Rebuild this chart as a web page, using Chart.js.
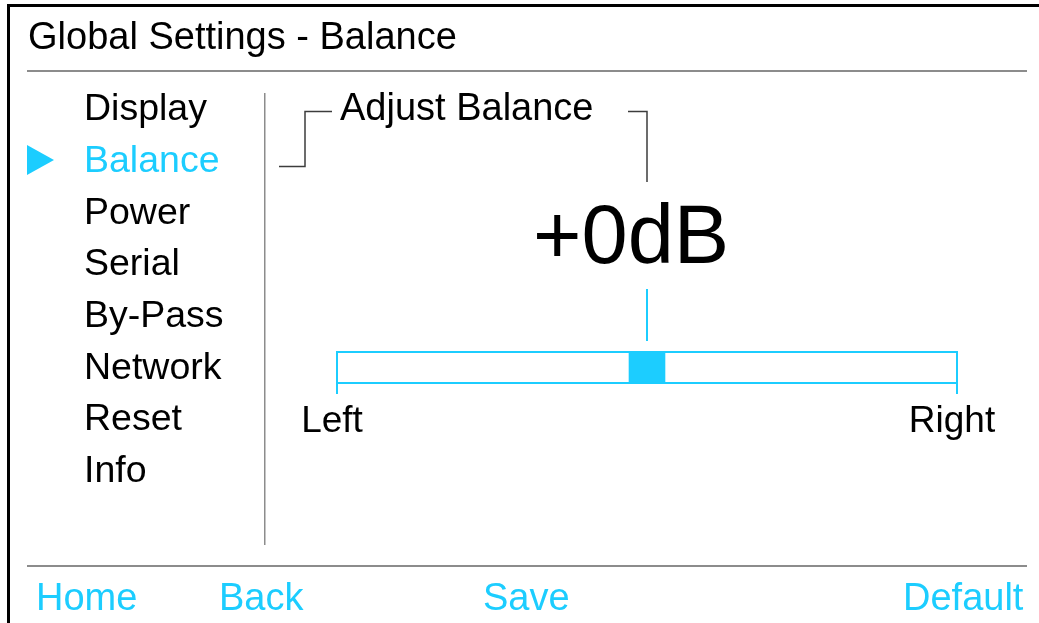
<!DOCTYPE html>
<html>
<head>
<meta charset="utf-8">
<title>Global Settings - Balance</title>
<script src="https://cdn.jsdelivr.net/npm/chart.js@4.4.0/dist/chart.umd.min.js"></script>
<style>
  html, body { margin: 0; padding: 0; background: #fff; }
  body { width: 1039px; height: 623px; position: relative; overflow: hidden;
         font-family: "Liberation Sans", Arial, Helvetica, sans-serif; }
  #balanceChart { position: absolute; left: 0; top: 0; }
  .txt { position: absolute; white-space: nowrap; font-size: 38px; line-height: 38px; color: #000; }
  .cyan { color: #1ccdff; }
</style>
</head>
<body>
<canvas id="balanceChart" width="1039" height="623"></canvas>
<script>
// screen content
const pageTitle = 'Global Settings - Balance';
const menuItems = ['Display', 'Balance', 'Power', 'Serial', 'By-Pass', 'Network', 'Reset', 'Info'];
const selectedItem = 'Balance';
const footerButtons = ['Home', 'Back', 'Save', 'Default'];
const groupTitle = 'Adjust Balance';

// balance data
const balanceCategories = ['Balance'];
const balanceValues = [0];          // dB
const balanceMin = -10;
const balanceMax = 10;
const tickValues = [-10, 10];
const tickLabels = ['Left', 'Right'];
const markerHalfWidth = 0.58;

const cyan = '#1ccdff';
const fontFamily = '"Liberation Sans", Arial, Helvetica, sans-serif';

//text layout (left x, baseline y)
function addText(str, left, baseline, size, cls) {
    const el = document.createElement('div');
    el.className = 'txt' + (cls ? ' ' + cls : '');
    el.style.fontSize = size + 'px';
    el.style.lineHeight = size + 'px';
    el.style.left = left + 'px';
    el.style.top = (baseline - 0.8465 * size) + 'px';
    el.textContent = str;
    document.body.appendChild(el);
    return el;
}

addText(pageTitle, 28, 49.5, 38);
menuItems.forEach(function (item, i) {
    addText(item, 84, 121 + i * 51.7, 37.5, item === selectedItem ? 'cyan' : '');
});
addText(groupTitle, 340, 120, 38);

const footerX = [36, 219, 483, 903];
footerButtons.forEach(function (btn, i) {
    addText(btn, footerX[i], 610, 38, 'cyan');
});

// big dB readout, centred over the pointer
const v = balanceValues[0];
const readout = addText((v >= 0 ? '+' : '') + v + 'dB', 0, 263, 83);

//frame, separators, brackets, selector arrow
const uiFrame = {
    id: 'uiFrame',
    beforeDraw(chart) {
        const ctx = chart.ctx;
        ctx.save();
        ctx.fillStyle = '#000';
        ctx.fillRect(8, 4, 1031, 3);
        ctx.fillRect(7, 4, 3, 619);

        ctx.fillStyle = '#8c8c8c';
        ctx.fillRect(27, 70, 1000, 2);
        ctx.fillRect(27, 565, 1000, 2);
        ctx.fillRect(264, 93, 1.5, 452);

        ctx.strokeStyle = '#3c3c3c';
        ctx.lineWidth = 1.5;
        ctx.beginPath();
        ctx.moveTo(279, 166.5);
        ctx.lineTo(305, 166.5);
        ctx.lineTo(305, 111.5);
        ctx.lineTo(332, 111.5);
        ctx.moveTo(628, 111.5);
        ctx.lineTo(647, 111.5);
        ctx.lineTo(647, 182);
        ctx.stroke();

        const sel = menuItems.indexOf(selectedItem);
        const cy = 160 + (sel - 1) * 51.7;
        ctx.fillStyle = cyan;
        ctx.beginPath();
        ctx.moveTo(27, cy - 15);
        ctx.lineTo(54, cy);
        ctx.lineTo(27, cy + 15);
        ctx.closePath();
        ctx.fill();
        ctx.restore();
    },
    afterDatasetsDraw(chart) {
        const ctx = chart.ctx;
        const a = chart.chartArea;
        const px = chart.scales.x.getPixelForValue(balanceValues[0]);
        ctx.save();
        ctx.strokeStyle = cyan;
        ctx.lineWidth = 2;
        ctx.strokeRect(a.left, a.top, a.right - a.left, a.bottom - a.top);
        ctx.fillStyle = cyan;
        ctx.fillRect(px - 1, 289, 2, 52);
        ctx.restore();
    }
};

//draw balance slider
const containerBalance = document.querySelector('#balanceChart').getContext('2d');
const balanceChart = new Chart(containerBalance, {
    type: 'bar',
    data: {
        labels: balanceCategories,
        datasets: [{
            data: balanceValues.map(function (b) { return [b - markerHalfWidth, b + markerHalfWidth]; }),
            backgroundColor: cyan,
            borderWidth: 0,
            barPercentage: 1,
            categoryPercentage: 1
        }]
    },
    options: {
        indexAxis: 'y',
        responsive: false,
        devicePixelRatio: 1,
        animation: false,
        layout: {
            padding: { left: 337, right: 82, top: 352, bottom: 170 }
        },
        scales: {
            x: {
                type: 'linear',
                min: balanceMin,
                max: balanceMax,
                afterBuildTicks: function (scale) {
                    scale.ticks = tickValues.map(function (t) { return { value: t }; });
                },
                afterFit: function (scale) { scale.height = 70; },
                grid: {
                    drawOnChartArea: false,
                    drawTicks: true,
                    tickLength: 11,
                    color: cyan,
                    lineWidth: 2
                },
                border: { display: false },
                ticks: {
                    padding: 6,
                    labelOffset: -5,
                    color: '#000',
                    maxRotation: 0,
                    autoSkip: false,
                    font: { family: fontFamily, size: 37, lineHeight: 1.2 },
                    callback: function (value) {
                        return tickLabels[tickValues.indexOf(value)];
                    }
                }
            },
            y: { display: false }
        },
        plugins: {
            legend: { display: false },
            tooltip: { enabled: false }
        }
    },
    plugins: [uiFrame]
});

const pointerX = balanceChart.scales.x.getPixelForValue(v);
readout.style.left = (pointerX - 16 - readout.offsetWidth / 2) + 'px';
</script>
</body>
</html>
